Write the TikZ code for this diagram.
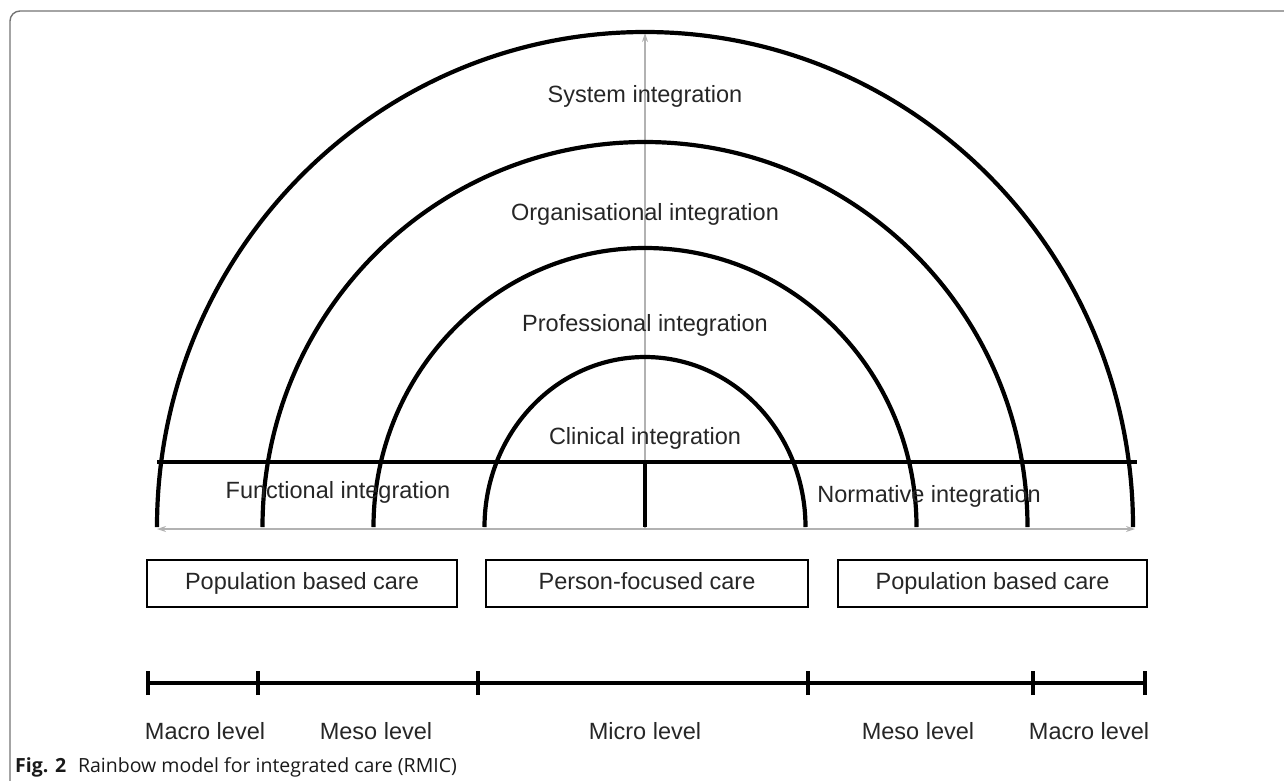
\documentclass[tikz,border=0pt]{standalone}
\usepackage{fontspec}
\setmainfont{Liberation Sans}
\newfontfamily\capfont{Open Sans}
\usetikzlibrary{arrows.meta}
\begin{document}
\begin{tikzpicture}[x=1pt,y=-1pt,
  lbl/.style={text=black!85, font=\fontsize{23.5}{28}\selectfont, inner sep=0pt},
  ring/.style={line width=4.2pt, black},
  carebox/.style={draw, line width=2.4pt, minimum height=47pt, inner sep=0pt, text height=17pt, text depth=5pt, text=black!85, font=\fontsize{23.5}{28}\selectfont},
  axis/.style={draw=black!30, line width=2pt, -{Stealth[length=9pt,width=6pt]}},
  axis2/.style={draw=black!30, line width=2pt, {Stealth[length=9pt,width=6pt]}-{Stealth[length=9pt,width=6pt]}},
  tl/.style={line width=4pt, black}]
\useasboundingbox (0,0) rectangle (1284,780);
\clip (0,0) rectangle (1284,780);
% frame
\draw[black!55, line width=1.4pt, rounded corners=10pt] (10,11) rectangle (1310,792);
% gray axes
\coordinate (abot) at (645,529);
\coordinate (atop) at (645,33);
\coordinate (hl) at (157,529);
\coordinate (hr) at (1135,529);
\draw[axis] (abot) -- (atop);
\draw[axis2] (hl) -- (hr);
% rings
\foreach \a/\b in {488/495, 382.5/385, 271.5/279, 160.5/170}{
  \draw[ring] (645-\a,527) arc[start angle=180, end angle=360, x radius=\a, y radius=\b];
}
\coordinate (lineL) at (157,462);
\coordinate (lineR) at (1137,462);
\coordinate (cdown) at (645,527);
\coordinate (cup) at (645,462);
\draw[ring] (lineL) -- (lineR);
\draw[ring] (cup) -- (cdown);
% labels
\node[lbl] (sys) at (645,96) {System integration};
\node[lbl] (org) at (645,214) {Organisational integration};
\node[lbl] (prof) at (645,325) {Professional integration};
\node[lbl] (clin) at (645,438) {Clinical integration};
\node[lbl] (func) at (338,492) {Functional integration};
\node[lbl] (norm) at (929,496) {Normative integration};
% boxes
\node[carebox, minimum width=310pt] (b1) at (302,583.5) {Population based care};
\node[carebox, minimum width=322pt] (b2) at (647,583.5) {Person-focused care};
\node[carebox, minimum width=309pt] (b3) at (992.5,583.5) {Population based care};
% timeline
\coordinate (t0) at (148,683);
\coordinate (t1) at (258,683);
\coordinate (t2) at (478,683);
\coordinate (t3) at (808,683);
\coordinate (t4) at (1033,683);
\coordinate (t5) at (1145,683);
\draw[tl] (t0) -- (t5);
\foreach \p in {t0,t1,t2,t3,t4,t5}{
  \draw[tl] ([yshift=-12pt]\p) -- ([yshift=12pt]\p);
}
\node[lbl] (m1) at (205,731) {Macro level};
\node[lbl] (m2) at (376,731) {Meso level};
\node[lbl] (m3) at (645,731) {Micro level};
\node[lbl] (m4) at (918,731) {Meso level};
\node[lbl] (m5) at (1089,731) {Macro level};
% caption
\node[anchor=west, inner sep=0pt, text=black!90, font=\capfont\fontsize{19.5}{23}\selectfont] (cap) at (15,767) {\textbf{Fig. 2}\hspace{0.6em}Rainbow model for integrated care (RMIC)};
\end{tikzpicture}
\end{document}
